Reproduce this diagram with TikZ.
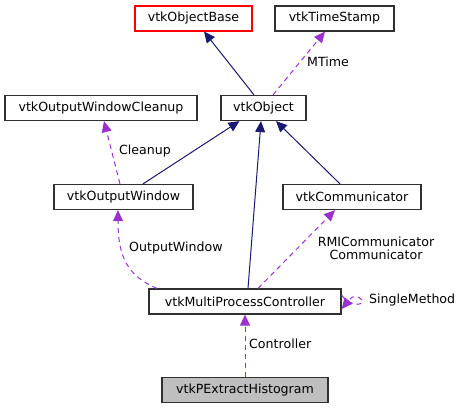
\documentclass[tikz,border=0pt]{standalone}
\usepackage{fontspec}
\setmainfont{DejaVu Sans}
\usetikzlibrary{arrows.meta}
\definecolor{edgeblue}{HTML}{191970}
\definecolor{edgepurple}{HTML}{9A32CD}
\definecolor{boxgrey}{HTML}{303030}
\begin{document}
\begin{tikzpicture}[x=1pt,y=-1pt,
  every node/.style={font=\fontsize{12.6}{15}\selectfont},
  cls/.style={draw=boxgrey,line width=1.2pt,fill=white,minimum height=25pt,inner sep=0pt,anchor=center},
  inh/.style={draw=edgeblue,line width=1pt,-{Triangle[length=11pt,width=10pt]}},
  use/.style={draw=edgepurple,line width=1pt,dash pattern=on 5pt off 4pt,-{Triangle[length=11pt,width=10pt]}},
  lbl/.style={anchor=west,inner sep=0pt}]
\useasboundingbox (0,0) rectangle (463,409);
\node[cls,draw=red,minimum width=117pt] (base) at (193.5,18.5) {vtkObjectBase};
\node[cls,minimum width=119pt] (ts) at (334.5,18.5) {vtkTimeStamp};
\node[cls,minimum width=192pt] (cln) at (101,108) {vtkOutputWindowCleanup};
\node[cls,minimum width=85pt] (obj) at (263.5,108) {vtkObject};
\node[cls,minimum width=139pt] (ow) at (123.5,197) {vtkOutputWindow};
\node[cls,minimum width=138pt] (comm) at (352,197) {vtkCommunicator};
\node[cls,minimum width=192pt] (mpc) at (245,301.5) {vtkMultiProcessController};
\node[cls,fill={rgb,255:red,191;green,191;blue,191},minimum width=166pt] (peh) at (245,390) {vtkPExtractHistogram};

\draw[inh] ([xshift=-9.5pt]obj.north) -- ([xshift=10.5pt]base.south);
\draw[use] ([xshift=9.5pt]obj.north) -- ([xshift=-9.5pt]ts.south);
\node[lbl] (lmt) at (307,62) {MTime};
\draw[inh] ([xshift=19.5pt]ow.north) -- ([xshift=-24pt]obj.south);
\draw[inh] ([xshift=3pt]mpc.north) -- ([xshift=-2.5pt]obj.south);
\draw[inh] ([xshift=-12pt]comm.north) -- ([xshift=12.5pt]obj.south);
\draw[use] ([xshift=-3.5pt]ow.north) -- ([xshift=3pt]cln.south);
\node[lbl] (lcl) at (119,151) {Cleanup};
\draw[use] ([xshift=-88pt]mpc.north) .. controls (128,276) and (118,258) .. ([xshift=-5.5pt]ow.south);
\node[lbl] (low) at (129,248) {OutputWindow};
\draw[use] ([xshift=13pt]mpc.north) -- ([xshift=-17pt]comm.south);
\node[align=center,inner sep=0pt] (lrc) at (376,248) {RMICommunicator\\[-2pt]Communicator};
\draw[use] ([yshift=6.5pt]mpc.east) .. controls (352,309) and (366,304) .. (362,300) .. controls (358,296) and (354,294) .. ([yshift=-7.5pt]mpc.east);
\node[lbl] (lsm) at (369,300) {SingleMethod};
\draw[use] (peh.north) -- (mpc.south);
\node[lbl] (lct) at (249,344) {Controller};
\end{tikzpicture}
\end{document}
